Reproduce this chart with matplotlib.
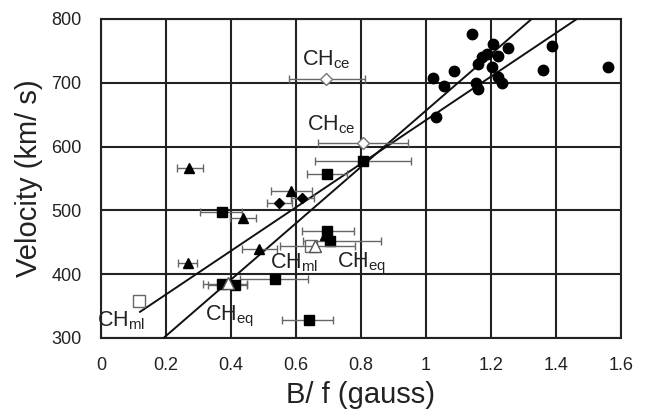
import numpy as np
import matplotlib
matplotlib.use("Agg")
import matplotlib.pyplot as plt

plt.rcParams['font.family'] = ['Liberation Sans', 'DejaVu Sans']
plt.rcParams['mathtext.fontset'] = 'custom'
plt.rcParams['mathtext.rm'] = 'Liberation Sans'
plt.rcParams['mathtext.it'] = 'Liberation Sans'

# ---- data ----
circle_x = [1.142, 1.206, 1.252, 1.387, 1.172, 1.188, 1.220, 1.159, 1.204, 1.086,
            1.022, 1.055, 1.154, 1.161, 1.220, 1.235, 1.360, 1.560, 1.032]
circle_y = [776, 761, 754, 758, 740, 745, 742, 729, 724, 718,
            708, 695, 699, 691, 709, 700, 720, 725, 646]

square_x = [0.807, 0.694, 0.371, 0.696, 0.705, 0.535, 0.371, 0.412, 0.640]
square_y = [578, 557, 497, 468, 452, 392, 384, 383, 328]
square_xlo = [0.658, 0.634, 0.305, 0.617, 0.620, 0.428, 0.315, 0.330, 0.556]
square_xhi = [0.953, 0.756, 0.433, 0.778, 0.861, 0.638, 0.450, 0.450, 0.714]

tri_x = [0.271, 0.585, 0.438, 0.689, 0.487, 0.267]
tri_y = [566, 530, 488, 461, 440, 418]
tri_xlo = [0.235, 0.523, 0.397, 0.689, 0.433, 0.238]
tri_xhi = [0.315, 0.648, 0.477, 0.689, 0.541, 0.296]

dia_x = [0.549, 0.619]
dia_y = [511, 519]
dia_xlo = [0.512, 0.584]
dia_xhi = [0.587, 0.655]

odia_x = [0.693, 0.806]
odia_y = [706, 606]
odia_xlo = [0.579, 0.667]
odia_xhi = [0.812, 0.946]

otri_x = [0.658, 0.392]
otri_y = [444, 386]
otri_xlo = [0.550, 0.392]
otri_xhi = [0.780, 0.392]

osq_x = [0.118, 0.646]
osq_y = [358, 444]

# fitted lines: (slope, intercept, x_start, x_end)
fit_eq = (441.5, 215.0, 0.19, 1.34)
fit_ml = (341.5, 300.0, 0.12, 1.47)

labels = [
    ("CH", "ce", 0.618, 728),
    ("CH", "ce", 0.633, 626),
    ("CH", "ml", 0.520, 409),
    ("CH", "eq", 0.725, 411),
    ("CH", "eq", 0.320, 328),
    ("CH", "ml", -0.011, 318),
]

xticks = [0, 0.2, 0.4, 0.6, 0.8, 1.0, 1.2, 1.4, 1.6]
xticklabels = ["0", "0.2", "0.4", "0.6", "0.8", "1", "1.2", "1.4", "1.6"]
yticks = [300, 400, 500, 600, 700, 800]

# ---- figure ----
fig = plt.figure(figsize=(6.47, 4.17), dpi=100)
ax = fig.add_axes([101/647, 1-338/417, 520/647, 319/417])
ax.set_xlim(0, 1.6)
ax.set_ylim(300, 800)
ax.set_xticks(xticks)
ax.set_xticklabels(xticklabels)
ax.set_yticks(yticks)
ax.tick_params(axis='both', length=0, labelsize=13, colors='#222222')
ax.tick_params(axis='x', pad=14)
ax.tick_params(axis='y', pad=14)
ax.grid(True, color='#222222', linewidth=1.5)
ax.set_axisbelow(True)
for s in ax.spines.values():
    s.set_color('#222222')
    s.set_linewidth(1.5)

ecol = '#666666'

def xerr(x, lo, hi):
    x = np.asarray(x); lo = np.asarray(lo); hi = np.asarray(hi)
    return [x - lo, hi - x]

# fit lines
for (m, b, x0, x1) in (fit_eq, fit_ml):
    xs = np.array([x0, x1])
    ax.plot(xs, m * xs + b, color='#111111', lw=1.4, zorder=3)

ax.errorbar(square_x, square_y, xerr=xerr(square_x, square_xlo, square_xhi), fmt='s',
            ms=7, mfc='black', mec='black', ecolor=ecol, elinewidth=1, capsize=3, zorder=4)
ax.errorbar(tri_x, tri_y, xerr=xerr(tri_x, tri_xlo, tri_xhi), fmt='^',
            ms=7, mfc='black', mec='black', ecolor=ecol, elinewidth=1, capsize=3, zorder=4)
ax.errorbar(dia_x, dia_y, xerr=xerr(dia_x, dia_xlo, dia_xhi), fmt='D',
            ms=5, mfc='black', mec='black', ecolor=ecol, elinewidth=1, capsize=3, zorder=4)
ax.errorbar(odia_x, odia_y, xerr=xerr(odia_x, odia_xlo, odia_xhi), fmt='D',
            ms=6, mfc='white', mec='#777777', ecolor=ecol, elinewidth=1, capsize=3, zorder=4)
ax.errorbar(otri_x, otri_y, xerr=xerr(otri_x, otri_xlo, otri_xhi), fmt='^',
            ms=8, mfc='white', mec='#555555', ecolor=ecol, elinewidth=1, capsize=3, zorder=5)
ax.plot(osq_x, osq_y, 's', ms=8, mfc='white', mec='#666666', zorder=4)
ax.plot(circle_x, circle_y, 'o', ms=7.5, color='black', zorder=4)

for base, sub, x, y in labels:
    ax.text(x, y, base + r'$_{\mathrm{' + sub + '}}$', fontsize=15.5, color='#222222',
            ha='left', va='baseline', zorder=6, clip_on=False)

ax.set_xlabel("B/ f (gauss)", fontsize=21, color='#222222', labelpad=5)
ax.set_ylabel("Velocity (km/ s)", fontsize=21, color='#222222', labelpad=6)

fig.savefig("out.png", dpi=100)
